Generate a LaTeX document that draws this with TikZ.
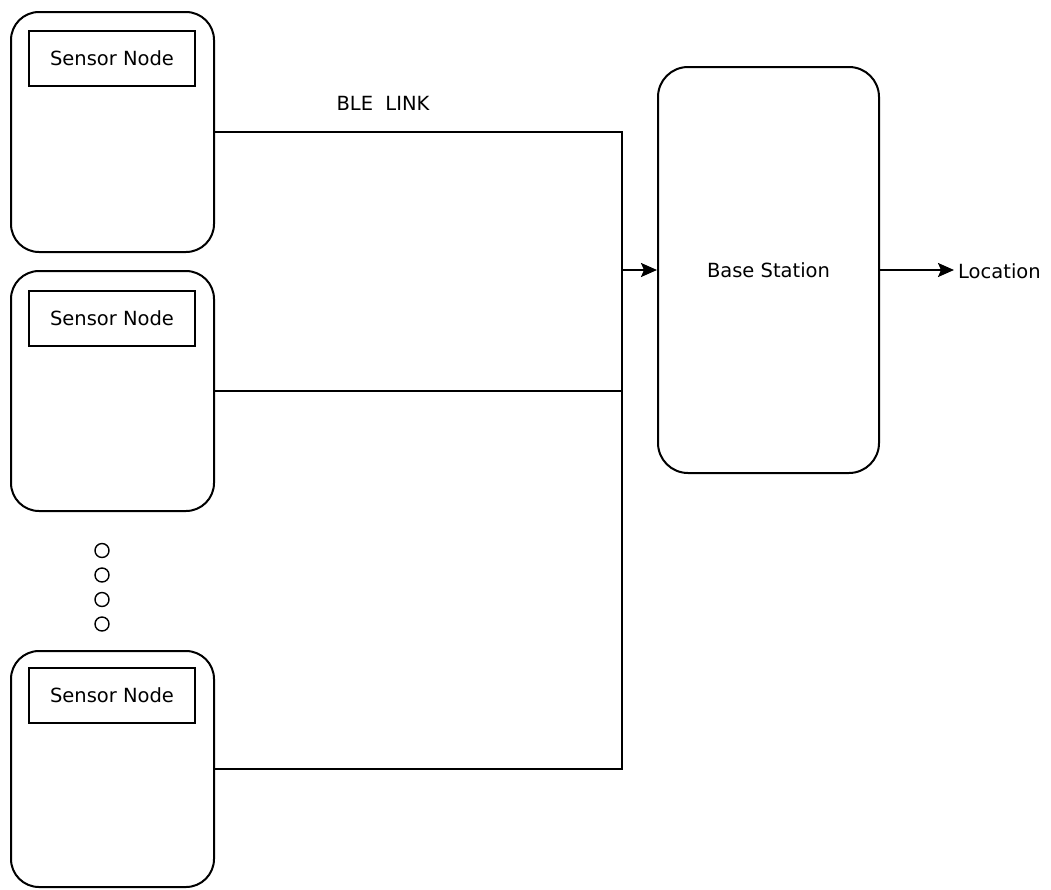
\documentclass[tikz,border=0pt]{standalone}
\usepackage{fontspec}
\setmainfont{DejaVu Sans}
\usetikzlibrary{arrows.meta}
\begin{document}
\begin{tikzpicture}[x=1pt,y=-1pt,
  every node/.style={font=\fontsize{19.5}{23}\selectfont},
  sensorbox/.style={draw,line width=2pt,rounded corners=28pt,minimum width=203pt,inner sep=0pt},
  labelbox/.style={draw,line width=2pt,minimum width=166pt,minimum height=55pt,inner sep=0pt},
  wire/.style={line width=2pt},
  arr/.style={line width=2pt,-{Stealth[length=16pt,width=14pt,inset=3pt]}},
  dot/.style={draw,line width=1.4pt,circle,minimum size=14pt,inner sep=0pt}]
\useasboundingbox (0,0) rectangle (1051,889);
% sensor nodes
\node[sensorbox,minimum height=240pt] (s1) at (112.5,132) {};
\node[labelbox] (l1) at (112,58.5) {Sensor Node};
\node[sensorbox,minimum height=240pt] (s2) at (112.5,391) {};
\node[labelbox] (l2) at (112,318.5) {Sensor Node};
\node[sensorbox,minimum height=236pt] (s3) at (112.5,769) {};
\node[labelbox] (l3) at (112,695.5) {Sensor Node};
% dots
\node[dot] (d1) at (102,550.5) {};
\node[dot] (d2) at (102,575) {};
\node[dot] (d3) at (102,599.5) {};
\node[dot] (d4) at (102,624) {};
% base station
\node[draw,line width=2pt,rounded corners=30pt,minimum width=221pt,minimum height=406pt,inner sep=0pt] (bs) at (768.5,270) {Base Station};
\node[anchor=west,inner sep=0pt] (loc) at (958,271) {Location};
\node (ble) at (383,103) {BLE\ \ LINK};
% bus
\coordinate (j1) at (622,132);
\draw[wire] (s1.east) -- (s1.east -| j1) -- (s3.east -| j1) -- (s3.east);
\draw[wire] (s2.east) -- (s2.east -| j1);
\draw[arr] (bs.west -| j1) -- (bs.west);
\draw[arr,shorten >=4pt] (bs.east) -- (bs.east -| loc.west);
\end{tikzpicture}
\end{document}
